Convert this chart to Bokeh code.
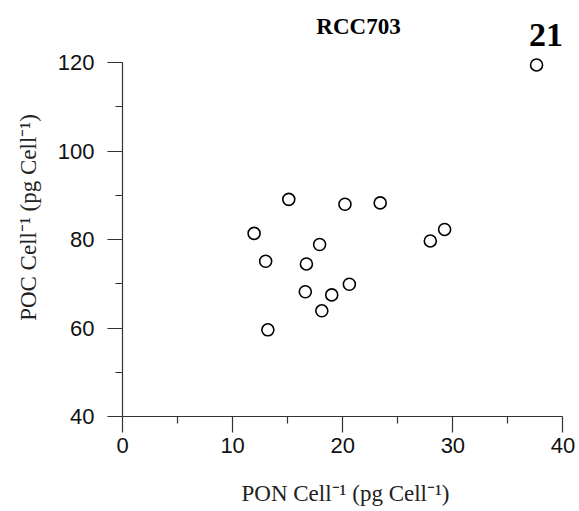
from bokeh.plotting import figure
from bokeh.models import Range1d, Label, FixedTicker
from bokeh.embed import file_html
from bokeh.resources import INLINE

# Data
pon = [11.95, 13.0, 13.2, 15.1, 20.2, 23.4, 17.9, 16.7, 16.6, 19.0, 18.1, 20.6, 27.95, 29.25, 37.6]
poc = [81.4, 75.1, 59.6, 89.1, 88.0, 88.3, 78.9, 74.5, 68.2, 67.5, 63.9, 69.9, 79.7, 82.3, 119.5]
x_ticks = [0, 10, 20, 30, 40]
x_minor = [5, 15, 25, 35]
y_ticks = [40, 60, 80, 100, 120]
y_minor = [50, 70, 90, 110]
title_text = "RCC703"
panel_label = "21"

p = figure(width=579, height=511, output_backend="svg", toolbar_location=None,
           x_range=Range1d(0, 40.5), y_range=Range1d(40, 130),
           min_border_left=122, min_border_right=11, min_border_top=18, min_border_bottom=95)
p.outline_line_color = None
p.xgrid.grid_line_color = None
p.ygrid.grid_line_color = None
p.background_fill_color = "white"
p.border_fill_color = "white"

p.scatter(pon, poc, marker="circle", size=12, fill_color="white",
          line_color="black", line_width=1.6)

for ax, ticks, minor, bnds in ((p.xaxis[0], x_ticks, x_minor, (0, 40)),
                               (p.yaxis[0], y_ticks, y_minor, (40, 120))):
    ax.ticker = FixedTicker(ticks=ticks, minor_ticks=minor)
    ax.bounds = bnds
    ax.major_tick_in = 0
    ax.minor_tick_in = 0
    ax.axis_line_color = "#333333"
    ax.major_tick_line_color = "#333333"
    ax.minor_tick_line_color = "#333333"
    ax.axis_line_width = 1.2
    ax.major_tick_line_width = 1.2
    ax.minor_tick_line_width = 1.2
    ax.major_label_text_font = "Liberation Sans"
    ax.major_label_text_font_size = "22px"
    ax.major_label_text_color = "#111111"
    ax.axis_label_text_font = "Liberation Serif"
    ax.axis_label_text_font_size = "23px"
    ax.axis_label_text_font_style = "normal"
    ax.axis_label_text_color = "#222222"

p.xaxis.major_tick_out = 16
p.xaxis.minor_tick_out = 7
p.xaxis.major_label_standoff = 5
p.xaxis.axis_label = "PON Cell\u207b\u00b9 (pg Cell\u207b\u00b9)"
p.xaxis.axis_label_standoff = 25

p.yaxis.major_tick_out = 15
p.yaxis.minor_tick_out = 7
p.yaxis.major_label_standoff = 13
p.yaxis.axis_label = "POC Cell\u207b\u00b9 (pg Cell\u207b\u00b9)"
p.yaxis.axis_label_standoff = 14

title_lab = Label(x=17.6, y=120, text=title_text, text_align="left", text_baseline="alphabetic",
                  y_offset=36, text_font="Liberation Serif", text_font_style="bold",
                  text_font_size="23px", text_color="black")
p.add_layout(title_lab)

lab = Label(x=40, y=120, text=panel_label, text_align="right", text_baseline="alphabetic",
            y_offset=28, text_font="Liberation Serif", text_font_style="bold",
            text_font_size="34px", text_color="black")
p.add_layout(lab)

open("out.html", "w").write(file_html(p, INLINE))
